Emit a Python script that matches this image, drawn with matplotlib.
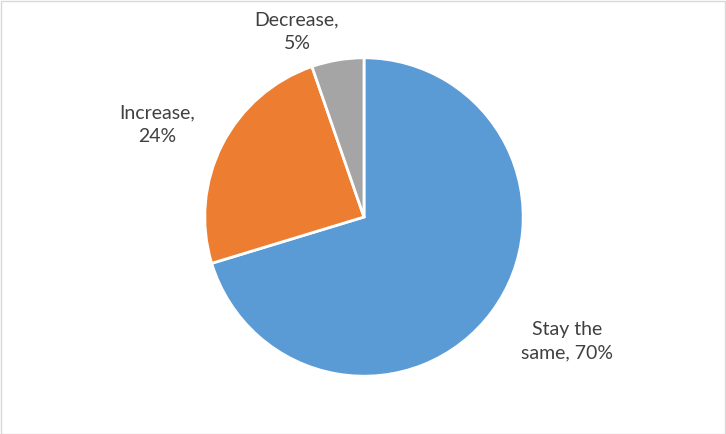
import matplotlib
matplotlib.use("Agg")
import matplotlib.pyplot as plt
from matplotlib.patches import Rectangle

categories = ["Stay the same", "Increase", "Decrease"]
values = [70.3, 24.4, 5.3]
colors = ["#5B9BD5", "#ED7D31", "#A5A5A5"]
label_fmt = ["Stay the\nsame, {}%", "Increase,\n{}%", "Decrease,\n{}%"]

W, H = 726, 434
fig = plt.figure(figsize=(W / 100, H / 100), dpi=100)
plt.rcParams['font.family'] = ['Lato', 'DejaVu Sans']

cx, cy, r = 364, 217, 160
ax = fig.add_axes([(cx - r) / W, (H - cy - r) / H, 2 * r / W, 2 * r / H])
ax.pie(values, colors=colors, startangle=90, counterclock=False, radius=0.995,
       wedgeprops=dict(edgecolor="white", linewidth=2))
ax.set_xlim(-1, 1)
ax.set_ylim(-1, 1)
ax.axis("off")

label_pos = [(567, 341), (157, 125), (297, 32)]
for fmt, v, (x, y) in zip(label_fmt, values, label_pos):
    fig.text(x / W, 1 - y / H, fmt.format(round(v)), ha="center", va="center",
             fontsize=14, color="#404040", linespacing=1.45)

fig.patches.append(Rectangle((0.5 / W, 0.5 / H), 1 - 1.5 / W, 1 - 1.5 / H,
                             transform=fig.transFigure, fill=False,
                             edgecolor="#D9D9D9", linewidth=1))
fig.savefig("out.png", dpi=100)
